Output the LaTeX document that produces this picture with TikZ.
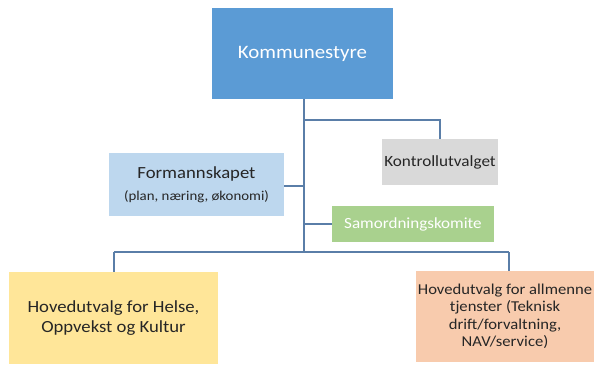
\documentclass[tikz,border=0pt]{standalone}
\usepackage{fontspec}
\setmainfont{Carlito}[FakeStretch=1.1]
\definecolor{kbl}{HTML}{5B9BD5}
\definecolor{fbl}{HTML}{BDD7EE}
\definecolor{kgr}{HTML}{D9D9D9}
\definecolor{sgr}{HTML}{A9D18E}
\definecolor{yel}{HTML}{FFE699}
\definecolor{sal}{HTML}{F8CBAD}
\definecolor{lin}{HTML}{5A7EA8}
\definecolor{txt}{HTML}{262626}
\tikzset{
  boxst/.style={inner sep=2pt, align=center, text=txt},
  conn/.style={draw=lin, line width=1.2pt}
}
\begin{document}
\begin{tikzpicture}[x=1pt,y=-1pt]
\useasboundingbox (0,0) rectangle (594,364);
\node[boxst, fill=kbl, text=white, minimum width=181pt, minimum height=91pt, font=\fontsize{19}{21}\selectfont] (komm) at (302.5,53.5) {Kommunestyre};
\node[boxst, fill=fbl, minimum width=175pt, minimum height=63pt] (form) at (196.5,184.5) {{\fontsize{17}{18}\selectfont Formannskapet}\\[8pt]{\fontsize{13.5}{15}\selectfont (plan, næring, økonomi)}};
\node[boxst, fill=kgr, minimum width=116pt, minimum height=46pt, font=\fontsize{15.6}{17}\selectfont] (kontr) at (440,162) {Kontrollutvalget};
\node[boxst, fill=sgr, text=white, minimum width=162pt, minimum height=36pt, font=\fontsize{15.5}{17}\selectfont] (samo) at (413,224) {Samordningskomite};
\node[boxst, fill=yel, minimum width=209pt, minimum height=92pt, font=\fontsize{17}{20.5}\selectfont] (helse) at (113.5,318) {Hovedutvalg for Helse,\\Oppvekst og Kultur};
\node[boxst, fill=sal, minimum width=176pt, minimum height=91pt, font=\fontsize{15.1}{17.5}\selectfont] (allm) at (505,316.5) {Hovedutvalg for allmenne\\tjenster (Teknisk\\drift/forvaltning,\\NAV/service)};
\coordinate (tbot) at (304,252);
\coordinate (tk) at (304,120);
\coordinate (tf) at (304,186);
\coordinate (ts) at (304,224);
\coordinate (lh) at (114,252);
\coordinate (rh) at (509,252);
\draw[conn] (komm.south -| tbot) -- (tbot);
\draw[conn] (tk) -| (kontr.north);
\draw[conn] (tf) -- (tf -| form.east);
\draw[conn] (ts) -- (ts -| samo.west);
\draw[conn] (lh) -- (rh);
\draw[conn] (lh) -- (lh |- helse.north);
\draw[conn] (rh) -- (rh |- allm.north);
\end{tikzpicture}
\end{document}
